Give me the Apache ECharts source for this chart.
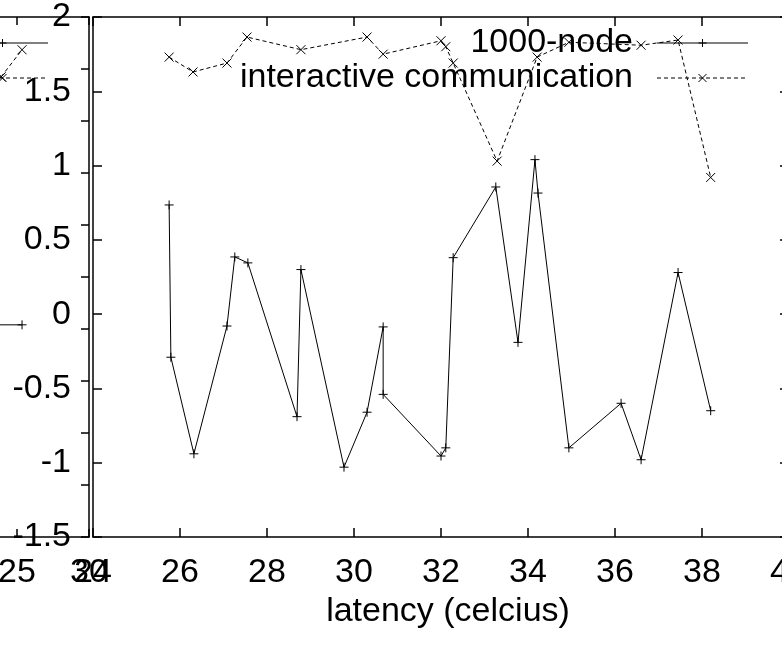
<!DOCTYPE html>
<html>
<head>
<meta charset="utf-8">
<title>latency</title>
<script src="https://cdn.jsdelivr.net/npm/echarts@6/dist/echarts.min.js"></script>
<style>
html,body{margin:0;padding:0;background:#fff;}
#chart{width:782px;height:645px;}
</style>
</head>
<body>
<div id="chart"></div>
<script>
// main panel: 1000-node
var nodeX = [25.75, 25.79, 26.32, 27.08, 27.26, 27.56, 28.69, 28.78, 29.77, 30.30, 30.67, 30.67,
             32.00, 32.11, 32.28, 33.26, 33.77, 34.16, 34.23, 34.94, 36.14, 36.60, 37.45, 38.20];
var nodeY = [0.735, -0.29, -0.94, -0.08, 0.385, 0.345, -0.69, 0.30, -1.03, -0.66, -0.086, -0.54,
             -0.955, -0.90, 0.38, 0.856, -0.19, 1.04, 0.815, -0.90, -0.60, -0.98, 0.28, -0.65];
// main panel: interactive communication
var commX = [25.75, 26.30, 27.08, 27.54, 28.78, 30.30, 30.67, 32.00, 32.11, 32.28, 33.29, 34.21,
             34.94, 36.60, 37.45, 38.20];
var commY = [1.73, 1.63, 1.69, 1.865, 1.78, 1.865, 1.75, 1.84, 1.80, 1.69, 1.03, 1.73,
             1.83, 1.81, 1.845, 0.92];
// left panel (mostly cut off)
var leftNodeX = [23.0, 25.35];
var leftNodeY = [4.08, 4.08];
var leftCommX = [22.8, 23.9, 25.35];
var leftCommY = [8.4, 8.85, 9.37];

var seriesNames = ['1000-node', 'interactive communication'];
var xName = 'latency (celcius)';

var FONT = 'Liberation Sans, Arial, sans-serif';
var FS = 34;
var PLUS = 'path://M0,5L10,5M5,0L5,10';
var CROSS = 'path://M0,0L10,10M10,0L0,10';

function pairs(xs, ys){
	var out = [];
	for (var i = 0; i < xs.length; i++) {
		out.push([xs[i], ys[i]]);
	}
	return out;
}

function frameAxis(grid, pos, min, max, interval, showLabel, tickLen){
	return {
		type: 'value', gridIndex: grid, position: pos,
		min: min, max: max, interval: interval,
		splitLine: {show: false},
		axisLine: {show: true, onZero: false, lineStyle: {color: '#000', width: 1.5}},
		axisTick: {show: true, inside: true, length: tickLen, lineStyle: {color: '#000', width: 1.5}},
		axisLabel: {show: showLabel, color: '#000', fontFamily: FONT, fontSize: FS, margin: 19,
			hideOverlap: false}
	};
}

function lineSeries(name, xi, yi, data, dashed, symbol){
	return {
		name: name, type: 'line', xAxisIndex: xi, yAxisIndex: yi,
		data: data, symbol: symbol, symbolSize: 9, showSymbol: true,
		animation: false,
		lineStyle: {color: '#000', width: 1, type: dashed ? [4, 3] : 'solid'},
		itemStyle: {color: '#000', borderColor: '#000', borderWidth: 1}
	};
}

// gnuplot style key entry: text, sample line, marker
function keyEntry(right, y, label, dashed, marker){
	var x2 = right - 41, x1 = right - 132, mid = (x1 + x2) / 2;
	var mk = marker == 'plus'
		? [[mid - 4, y, mid + 4, y], [mid, y - 4, mid, y + 4]]
		: [[mid - 4, y - 4, mid + 4, y + 4], [mid + 4, y - 4, mid - 4, y + 4]];
	var els = [
		{type: 'text', x: x1 - 24, y: y, z: 100,
		 style: {text: label, font: FS + 'px ' + FONT, fill: '#000', align: 'right', verticalAlign: 'middle'}},
		{type: 'line', z: 100, shape: {x1: x1, y1: y, x2: x2, y2: y},
		 style: {stroke: '#000', lineWidth: 1, lineDash: dashed ? [4, 3] : null}}
	];
	for (var i = 0; i < mk.length; i++) {
		els.push({type: 'line', z: 100, shape: {x1: mk[i][0], y1: mk[i][1], x2: mk[i][2], y2: mk[i][3]},
			style: {stroke: '#000', lineWidth: 1}});
	}
	return els;
}

var chart = echarts.init(document.getElementById('chart'));

var mainRight = 789, leftRight = 89;
var xMain = frameAxis(0, 'bottom', 24, 40, 2, true, 9);
xMain.name = xName;
xMain.nameLocation = 'middle';
xMain.nameGap = 55;
xMain.nameTextStyle = {color: '#000', fontFamily: FONT, fontSize: FS, padding: [0, 0, 0, 14]};
var yMain = frameAxis(0, 'left', -1.5, 2, 0.5, true, 9);
yMain.axisLabel.margin = 22;

var option = {
	backgroundColor: '#fff',
	animation: false,
	grid: [
		{left: 93, top: 17, width: mainRight - 93, height: 520, containLabel: false, outerBoundsMode: 'none'},
		{left: leftRight - 144, top: 17, width: 144, height: 520, containLabel: false, outerBoundsMode: 'none'}
	],
	xAxis: [
		xMain,
		frameAxis(0, 'top', 24, 40, 2, false, 9),
		frameAxis(1, 'bottom', 20, 30, 5, true, 8),
		frameAxis(1, 'top', 20, 30, 5, false, 8)
	],
	yAxis: [
		yMain,
		frameAxis(0, 'right', -1.5, 2, 0.5, false, 9),
		frameAxis(1, 'left', 0, 10, 1, false, 8),
		frameAxis(1, 'right', 0, 10, 1, false, 8)
	],
	series: [
		lineSeries(seriesNames[0], 0, 0, pairs(nodeX, nodeY), false, PLUS),
		lineSeries(seriesNames[1], 0, 0, pairs(commX, commY), true, CROSS),
		lineSeries(seriesNames[0], 2, 2, pairs(leftNodeX, leftNodeY), false, PLUS),
		lineSeries(seriesNames[1], 2, 2, pairs(leftCommX, leftCommY), true, CROSS)
	],
	graphic: [].concat(
		keyEntry(mainRight, 43, seriesNames[0], false, 'plus'),
		keyEntry(mainRight, 78, seriesNames[1], true, 'cross'),
		keyEntry(leftRight, 43, seriesNames[0], false, 'plus'),
		keyEntry(leftRight, 78, seriesNames[1], true, 'cross')
	)
};
chart.setOption(option);
</script>
</body>
</html>
